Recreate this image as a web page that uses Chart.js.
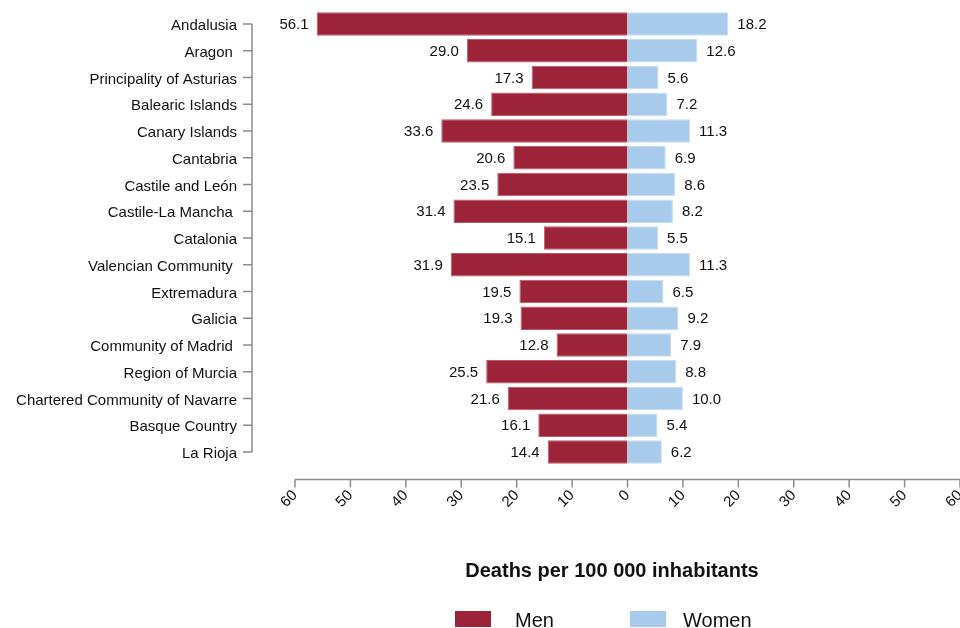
<!DOCTYPE html>
<html>
<head>
<meta charset="utf-8">
<script src="https://cdn.jsdelivr.net/npm/chart.js@4.4.1/dist/chart.umd.min.js"></script>
<style>
  html, body { margin: 0; padding: 0; background: #fff; }
</style>
</head>
<body>
<canvas id="chart" width="960" height="628"></canvas>
<script>
// data
const regions = [
  'Andalusia', 'Aragon ', 'Principality of Asturias', 'Balearic Islands', 'Canary Islands',
  'Cantabria', 'Castile and León', 'Castile-La Mancha ', 'Catalonia', 'Valencian Community ',
  'Extremadura', 'Galicia', 'Community of Madrid ', 'Region of Murcia',
  'Chartered Community of Navarre', 'Basque Country', 'La Rioja'
];
const menRates = [56.1, 29.0, 17.3, 24.6, 33.6, 20.6, 23.5, 31.4, 15.1, 31.9, 19.5, 19.3, 12.8, 25.5, 21.6, 16.1, 14.4];
const womenRates = [18.2, 12.6, 5.6, 7.2, 11.3, 6.9, 8.6, 8.2, 5.5, 11.3, 6.5, 9.2, 7.9, 8.8, 10.0, 5.4, 6.2];
const xTickValues = [-60, -50, -40, -30, -20, -10, 0, 10, 20, 30, 40, 50, 60];
const seriesNames = ['Men', 'Women'];
const axisTitle = 'Deaths per 100 000 inhabitants';

const MEN_COLOR = '#9c2338';
const WOMEN_COLOR = '#a9cbeb';
const AXIS_COLOR = '#8c8c8c';
const FONT = '"Liberation Sans", Arial, Helvetica, sans-serif';

// axes, value labels, title and legend drawn by hand
const decorations = {
  id: 'decorations',
  afterDatasetsDraw(chart) {
    const ctx = chart.ctx;
    ctx.save();
    ctx.font = '15px ' + FONT;
    ctx.fillStyle = '#111';
    ctx.textBaseline = 'middle';
    chart.getDatasetMeta(0).data.forEach((bar, i) => {
      ctx.textAlign = 'right';
      ctx.fillText(menRates[i].toFixed(1), bar.x - 8, bar.y + 1);
    });
    chart.getDatasetMeta(1).data.forEach((bar, i) => {
      ctx.textAlign = 'left';
      ctx.fillText(womenRates[i].toFixed(1), bar.x + 9, bar.y + 1);
    });
    ctx.restore();
  },
  afterDraw(chart) {
    const ctx = chart.ctx;
    const x = chart.scales.x;
    const y = chart.scales.y;
    ctx.save();
    ctx.strokeStyle = AXIS_COLOR;
    ctx.lineWidth = 1.5;

    // y axis line + ticks, from first to last category
    const axisX = 252;
    const yFirst = y.getPixelForValue(0);
    const yLast = y.getPixelForValue(regions.length - 1);
    ctx.beginPath();
    ctx.moveTo(axisX, yFirst);
    ctx.lineTo(axisX, yLast);
    regions.forEach((r, i) => {
      const py = y.getPixelForValue(i);
      ctx.moveTo(axisX, py);
      ctx.lineTo(axisX - 9, py);
    });
    ctx.stroke();

    // x axis line + ticks
    const axisY = 479.5;
    ctx.beginPath();
    ctx.moveTo(x.getPixelForValue(xTickValues[0]), axisY);
    ctx.lineTo(x.getPixelForValue(xTickValues[xTickValues.length - 1]), axisY);
    xTickValues.forEach(v => {
      const px = x.getPixelForValue(v);
      ctx.moveTo(px, axisY);
      ctx.lineTo(px, axisY + 8);
    });
    ctx.stroke();

    // rotated tick labels
    ctx.fillStyle = '#111';
    ctx.font = '15px ' + FONT;
    ctx.textAlign = 'right';
    ctx.textBaseline = 'middle';
    xTickValues.forEach(v => {
      const px = x.getPixelForValue(v);
      ctx.save();
      ctx.translate(px, 493);
      ctx.rotate(-Math.PI / 4);
      ctx.fillText(String(Math.abs(v)), 0, 0);
      ctx.restore();
    });

    // axis title
    ctx.font = 'bold 20px ' + FONT;
    ctx.textAlign = 'center';
    ctx.textBaseline = 'alphabetic';
    ctx.fillText(axisTitle, 612, 577);

    // legend
    const items = [
      { label: seriesNames[0], color: MEN_COLOR, box: 455, text: 515 },
      { label: seriesNames[1], color: WOMEN_COLOR, box: 630, text: 683 }
    ];
    ctx.font = '20px ' + FONT;
    ctx.textAlign = 'left';
    items.forEach(it => {
      ctx.fillStyle = it.color;
      ctx.fillRect(it.box, 611, 36, 16);
      ctx.fillStyle = '#111';
      ctx.fillText(it.label, it.text, 627);
    });
    ctx.restore();
  }
};

new Chart(document.getElementById('chart'), {
  type: 'bar',
  data: {
    labels: regions,
    datasets: [
      {
        label: seriesNames[0],
        data: menRates.map(v => -v),
        backgroundColor: MEN_COLOR,
        borderColor: '#b85a6a',
        borderWidth: 1,
        barPercentage: 0.88,
        categoryPercentage: 1
      },
      {
        label: seriesNames[1],
        data: womenRates,
        backgroundColor: WOMEN_COLOR,
        borderColor: '#c6dcf2',
        borderWidth: 1,
        barPercentage: 0.88,
        categoryPercentage: 1
      }
    ]
  },
  options: {
    indexAxis: 'y',
    responsive: false,
    animation: false,
    devicePixelRatio: 1,
    layout: {
      padding: { left: 0, right: 0, top: 10.6, bottom: 162.6 }
    },
    plugins: {
      legend: { display: false },
      tooltip: { enabled: false }
    },
    scales: {
      x: {
        display: false,
        stacked: true,
        min: -60,
        max: 60
      },
      y: {
        stacked: true,
        grid: { display: false, drawTicks: false },
        border: { display: false },
        afterFit(scale) {
          scale.width = 295;
          scale.paddingTop = 0;
          scale.paddingBottom = 0;
        },
        ticks: {
          padding: 58,
          labelOffset: 2,
          color: '#111',
          font: { family: FONT, size: 15 }
        }
      }
    }
  },
  plugins: [decorations]
});
</script>
</body>
</html>
